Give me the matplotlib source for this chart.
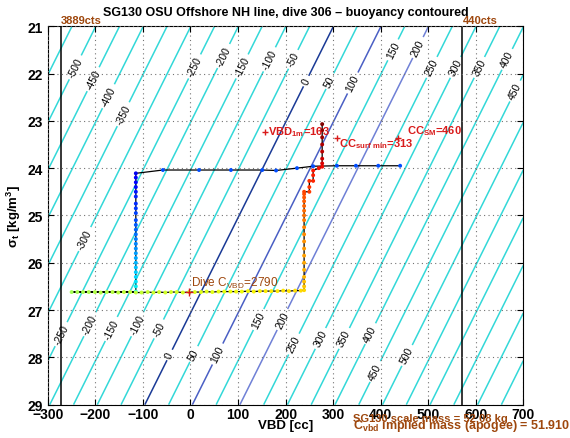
import numpy as np
import matplotlib
matplotlib.use("Agg")
import matplotlib.pyplot as plt

plt.rcParams['font.family'] = ['Liberation Sans', 'DejaVu Sans']
plt.rcParams['mathtext.default'] = 'regular'

# buoyancy field: neutral VBD at sigma_t = 29 and change of neutral VBD per kg/m^3
VBD_NEUTRAL_29 = -96.0
CC_PER_SIGMA = 49.6

levels = list(range(-600, 850, 50))

# contour label positions (level, sigma_t)
label_levels = [-500, -450, -400, -350, -250, -200, -150, -100, -50, 0, 50, 100,
                150, 200, 250, 300, 350, 400, 450,
                -300, -250, -200, -150, -100, -50, 0, 50, 100, 150, 200,
                250, 300, 350, 400, 450, 500]
label_sigma = [21.87, 22.12, 22.48, 22.86, 21.85, 21.63, 21.85, 21.7, 21.7, 22.16,
               22.16, 22.2, 21.5, 21.45, 21.87, 21.87, 21.87, 21.7, 22.37,
               25.5, 27.51, 27.3, 27.4, 27.3, 27.4, 27.95, 27.93, 27.93, 27.2, 27.2,
               27.72, 27.6, 27.6, 27.5, 28.3, 27.96]

# dive 306 samples, in time order
surf_vbd = [441, 395, 348, 308, 258, 224, 180, 151, 85, 18, -58]
surf_sigma = [23.95, 23.95, 23.95, 23.95, 23.96, 24.00, 24.05, 24.04, 24.04, 24.04, 24.04]

desc_vbd = [-115] * 25
desc_sigma = [24.11, 24.2, 24.3, 24.4, 24.5, 24.6, 24.75, 24.85, 24.95, 25.1, 25.2,
              25.3, 25.4, 25.5, 25.6, 25.7, 25.8, 25.9, 26.0, 26.1, 26.2, 26.3,
              26.4, 26.5, 26.61]

bot_vbd = [-250, -238, -226, -214, -201, -189, -176, -164, -152, -140, -127, -115,
           -103, -90, -78, -66, -53, -41, -29, -16, -3, 9, 22, 34, 46, 59, 71, 84,
           96, 108, 121, 133, 146, 158, 170, 183, 195, 207, 220, 232, 239]
bot_sigma = [26.62, 26.62, 26.62, 26.62, 26.62, 26.63, 26.62, 26.62, 26.63, 26.62,
             26.62, 26.63, 26.63, 26.62, 26.63, 26.62, 26.63, 26.62, 26.62, 26.63,
             26.62, 26.62, 26.62, 26.61, 26.62, 26.61, 26.61, 26.61, 26.61, 26.61,
             26.60, 26.61, 26.60, 26.60, 26.60, 26.60, 26.59, 26.60, 26.59, 26.59, 26.58]

climb_vbd = [239, 239, 239, 239, 239, 239, 239, 239, 239, 239, 239, 239, 239, 239,
             239, 239, 239, 239, 250, 250, 250, 258, 258, 258, 270, 277]
climb_sigma = [26.5, 26.4, 26.3, 26.15, 26.0, 25.85, 25.7, 25.55, 25.4, 25.25, 25.1,
               25.0, 24.9, 24.8, 24.7, 24.62, 24.55, 24.5, 24.5, 24.4, 24.27, 24.27,
               24.15, 24.05, 24.0, 23.97]

top_vbd = [277, 277, 277, 277, 277, 277, 277]
top_sigma = [23.9, 23.8, 23.65, 23.5, 23.35, 23.2, 23.07]

# pump count limits
limit_vbd = [-272, 572]
limit_text = ['3889cts', '440cts']

# annotations
ann_vbd = [157, 308, 437]
ann_sigma = [23.24, 23.37, 23.37]
ann_text = ['VBD$_{1m}$=163', 'CC$_{surf\\ min}$=313', 'CC$_{SM}$=460']
ann_text_vbd = [163, 312, 456]
ann_text_sigma = [23.22, 23.47, 23.2]

cvbd_vbd, cvbd_sigma = -3, 26.62
cvbd_text = 'Dive C$_{VBD}$=2790'

BROWN = (0.62, 0.28, 0.05)
RED = (0.85, 0.1, 0.1)


def main():
    fig = plt.figure(figsize=(5.7, 4.39), dpi=100)
    ax = fig.add_axes([0.084, 0.076, 0.834, 0.862])
    ax.set_xlim(-300, 700)
    ax.set_ylim(29, 21)

    vv, ss = np.meshgrid(np.linspace(-300, 700, 201), np.linspace(21, 29, 161))
    buoy = vv - VBD_NEUTRAL_29 + CC_PER_SIGMA * (ss - 29)

    cyan = '#33d8d8'
    special = {0: '#1a3a96', 100: '#4a5fc4', 200: '#6f80d6'}
    colors = [special.get(l, cyan) for l in levels]
    cs = ax.contour(vv, ss, buoy, levels=levels, colors=colors, linewidths=1.1)

    positions = [(lev + VBD_NEUTRAL_29 - CC_PER_SIGMA * (s - 29), s)
                 for lev, s in zip(label_levels, label_sigma)]
    ax.clabel(cs, fmt='%d', fontsize=7.5, colors='k', inline=True,
              inline_spacing=3, manual=positions)

    for x, t in zip(limit_vbd, limit_text):
        ax.axvline(x, color='k', lw=1.1)
        ax.text(x, 20.98, t, color=BROWN, fontsize=8, fontweight='bold',
                ha='left', va='bottom')

    # dive path
    segs = [(surf_vbd, surf_sigma, 0.2, 0.2),
            (desc_vbd, desc_sigma, 0.1, 0.37),
            (bot_vbd, bot_sigma, 0.55, 0.68),
            (climb_vbd, climb_sigma, 0.7, 0.9),
            (top_vbd, top_sigma, 0.92, 1.0)]
    all_v = []
    all_s = []
    for v, s, c0, c1 in segs:
        all_v += list(v)
        all_s += list(s)
    # descent joins to the surface leg's left end
    n = len(surf_vbd)
    ax.plot(all_v[:n] + [desc_vbd[0]] + all_v[n:],
            all_s[:n] + [desc_sigma[0]] + all_s[n:],
            color='k', lw=0.9, zorder=3)
    jet = plt.get_cmap('jet')
    for v, s, c0, c1 in segs:
        cols = jet(np.linspace(c0, c1, len(v)))
        ax.scatter(v, s, c=cols, s=8, zorder=4, edgecolors='none')

    # annotations
    ax.plot(ann_vbd, ann_sigma, '+', color=RED, ms=5, mew=1.0, zorder=5)
    for x, y, t in zip(ann_text_vbd, ann_text_sigma, ann_text):
        ax.text(x, y, t, color=RED, fontsize=8, fontweight='bold',
                ha='left', va='center', zorder=6)
    ax.plot([cvbd_vbd], [cvbd_sigma], '+', color=RED, ms=6, mew=1.0, zorder=5)
    ax.text(cvbd_vbd + 4, cvbd_sigma - 0.2, cvbd_text, color=BROWN, fontsize=8.5,
            ha='left', va='center', zorder=6)

    ax.set_xticks(np.arange(-300, 701, 100))
    ax.set_yticks(np.arange(21, 30, 1))
    ax.grid(True, linestyle=(0, (1, 3)), color='0.45', lw=0.8)
    ax.set_axisbelow(False)
    ax.tick_params(direction='in', top=True, right=True, labelsize=10, length=4)
    ax.tick_params(axis='x', pad=1.5)
    for lab in ax.get_xticklabels() + ax.get_yticklabels():
        lab.set_fontweight('bold')

    ax.set_xlabel('VBD [cc]', fontsize=9.5, fontweight='bold', labelpad=-1)
    ax.set_ylabel('$\\sigma_t$ [kg/m$^3$]', fontsize=9.5, fontweight='bold', labelpad=3)
    ax.set_title('SG130 OSU Offshore NH line, dive 306 \u2013 buoyancy contoured',
                 fontsize=9, fontweight='bold', pad=8)

    fig.text(353 / 570, 1 - 419 / 439, 'SG130 scale mass = 52.08 kg', color=BROWN,
             fontsize=8, fontweight='bold', ha='left', va='center')
    fig.text(353 / 570, 1 - 426 / 439, 'C$_{vbd}$ implied mass (apogee) = 51.910',
             color=BROWN, fontsize=9, fontweight='bold', ha='left', va='center')

    fig.savefig('out.png', dpi=100)


if __name__ == "__main__":
    main()
